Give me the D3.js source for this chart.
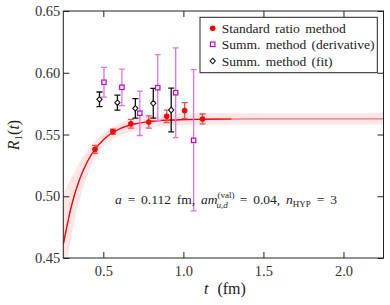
<!DOCTYPE html>
<html><head><meta charset="utf-8">
<script src="https://cdn.jsdelivr.net/npm/d3@7"></script>
<style>body{margin:0;background:#fff}svg{display:block}</style>
</head><body><svg id="c" width="390" height="305"></svg>
<script>
// ---- data ----
const ratioT   = [0.448, 0.560, 0.672, 0.784, 0.896, 1.008, 1.120];
const ratioR   = [0.538, 0.5523, 0.5587, 0.5601, 0.5647, 0.5693, 0.5626];
const ratioErr = [0.0032, 0.0020, 0.0035, 0.0050, 0.0050, 0.0065, 0.0040];
const derivT   = [0.504, 0.616, 0.728, 0.840, 0.952, 1.064];
const derivR   = [0.5923, 0.5882, 0.5672, 0.5879, 0.5838, 0.5453];
const derivErr = [0.0120, 0.0148, 0.0180, 0.0267, 0.0364, 0.0572];
const fitT     = [0.476, 0.588, 0.700, 0.812, 0.924];
const fitR     = [0.5785, 0.5758, 0.5712, 0.5753, 0.5698];
const fitErr   = [0.0059, 0.0061, 0.0079, 0.0120, 0.0177];
// fit curve and band
const curveT   = [0.25, 0.30, 0.35, 0.40, 0.45, 0.50, 0.60, 0.70, 0.80, 0.90, 1.00, 1.20, 1.50, 2.25];
const curveR   = [0.461, 0.4917, 0.5131, 0.5280, 0.5384, 0.5457, 0.5544, 0.5586, 0.5606, 0.5616, 0.5621, 0.5625, 0.5626, 0.5626];
const bandLo   = [0.425, 0.468, 0.496, 0.517, 0.531, 0.540, 0.549, 0.553, 0.556, 0.557, 0.5575, 0.558, 0.558, 0.558];
const bandHi   = [0.502, 0.515, 0.527, 0.537, 0.545, 0.551, 0.559, 0.5635, 0.5655, 0.5665, 0.567, 0.5672, 0.5672, 0.5672];
const fitEndT  = 1.30;
const xTicks = [0.5, 1.0, 1.5, 2.0];
const yTicks = [0.45, 0.50, 0.55, 0.60, 0.65];
const legendLabels = ["Standard ratio method", "Summ. method (derivative)", "Summ. method (fit)"];

// ---- chart ----
const FONT = '"Liberation Serif","DejaVu Serif","Times New Roman",serif';
const svg = d3.select("#c");
const L = 63.3, R = 383.5, T = 11, B = 258;
const x = d3.scaleLinear([0.25, 2.25], [L, R]);
const y = d3.scaleLinear([0.45, 0.65], [B, T]);

svg.append("defs").append("clipPath").attr("id","clip")
  .append("rect").attr("x",L).attr("y",T).attr("width",R-L).attr("height",B-T);
const g = svg.append("g").attr("clip-path","url(#clip)");

const idx = d3.range(curveT.length);
g.append("path")
  .attr("d", d3.area().x(i=>x(curveT[i])).y0(i=>y(bandLo[i])).y1(i=>y(bandHi[i])).curve(d3.curveMonotoneX)(idx))
  .attr("fill","#ff0000").attr("fill-opacity",0.1);
const lineGen = d3.line().x(i=>x(curveT[i])).y(i=>y(curveR[i])).curve(d3.curveMonotoneX);
g.append("path").attr("d", lineGen(idx)).attr("fill","none").attr("stroke","#f07070").attr("stroke-width",1.2);
const g2 = g.append("g");
g2.append("clipPath").attr("id","clip2").append("rect")
  .attr("x",L).attr("y",T).attr("width",x(fitEndT)-L).attr("height",B-T);
g2.append("path").attr("clip-path","url(#clip2)").attr("d", lineGen(idx)).attr("fill","none").attr("stroke","#ff0000").attr("stroke-width",1.2);

function errBars(ts, rs, es, color, cap){
  ts.forEach((t,i)=>{
    const cx = x(t), y1 = y(rs[i]+es[i]), y2 = y(rs[i]-es[i]);
    g.append("line").attr("x1",cx).attr("x2",cx).attr("y1",y1).attr("y2",y2).attr("stroke",color).attr("stroke-width",1.3);
    [y1,y2].forEach(yy=>g.append("line").attr("x1",cx-cap).attr("x2",cx+cap).attr("y1",yy).attr("y2",yy).attr("stroke",color).attr("stroke-width",1.3));
  });
}
const sym = {
  circle: (s,cx,cy)=>s.append("circle").attr("cx",cx).attr("cy",cy).attr("r",2.8).attr("fill","#ff0000"),
  square: (s,cx,cy)=>s.append("rect").attr("x",cx-2.2).attr("y",cy-2.2).attr("width",4.4).attr("height",4.4).attr("fill","#fff").attr("stroke","#c000c0").attr("stroke-width",1.2),
  diamond: (s,cx,cy)=>s.append("path").attr("d",`M${cx},${cy-2.8}L${cx+2.6},${cy}L${cx},${cy+2.8}L${cx-2.6},${cy}Z`).attr("fill","#fff").attr("stroke","#111").attr("stroke-width",1.1)
};

errBars(fitT, fitR, fitErr, "#111", 3);
errBars(derivT, derivR, derivErr, "#dd77dd", 3);
errBars(ratioT, ratioR, ratioErr, "#f05050", 3);
fitT.forEach((t,i)=>sym.diamond(g, x(t), y(fitR[i])));
derivT.forEach((t,i)=>sym.square(g, x(t), y(derivR[i])));
ratioT.forEach((t,i)=>sym.circle(g, x(t), y(ratioR[i])));

svg.append("rect").attr("x",L).attr("y",T).attr("width",R-L).attr("height",B-T).attr("fill","none").attr("stroke","#222").attr("stroke-width",1);

const xb = svg.append("g").attr("transform",`translate(0,${B})`).call(d3.axisBottom(x).tickValues(xTicks).tickFormat(d3.format(".1f")).tickSize(-6).tickPadding(8));
const xt = svg.append("g").attr("transform",`translate(0,${T})`).call(d3.axisTop(x).tickValues(xTicks).tickSize(-6).tickFormat(""));
const yl = svg.append("g").attr("transform",`translate(${L},0)`).call(d3.axisLeft(y).tickValues(yTicks).tickFormat(d3.format(".2f")).tickSize(-6).tickPadding(3));
const yr = svg.append("g").attr("transform",`translate(${R},0)`).call(d3.axisRight(y).tickValues(yTicks).tickSize(-6).tickFormat(""));
[xb,xt,yl,yr].forEach(a=>{a.attr("font-family",FONT); a.select(".domain").remove(); a.selectAll("line").attr("stroke","#222");});
svg.selectAll(".tick text").attr("font-size",14.5).attr("font-family",FONT).attr("fill","#333");

const lg = svg.append("g");
lg.append("rect").attr("x",200).attr("y",17.3).attr("width",177.3).attr("height",55.4).attr("fill","#fff").attr("stroke","#222").attr("stroke-width",1);
const ly = [28.3, 44.3, 61];
sym.circle(lg, 212.7, ly[0]);
sym.square(lg, 212.7, ly[1]);
sym.diamond(lg, 212.7, ly[2]);
legendLabels.forEach((s,i)=>lg.append("text").attr("x",221.7).attr("y",ly[i]+4.5).attr("font-family",FONT).attr("font-size",13.5).attr("word-spacing","2px").attr("fill","#222").text(s));

const ann = svg.append("text").attr("x",115).attr("y",204).attr("font-family",FONT).attr("font-size",13.5).attr("word-spacing","2.5px").attr("fill","#222");
ann.append("tspan").attr("font-style","italic").text("a");
ann.append("tspan").text(" = 0.112 fm,  ");
ann.append("tspan").attr("font-style","italic").text("am");
ann.append("tspan").attr("font-size",9).attr("dy",-6.5).text("(val)");
ann.append("tspan").attr("font-size",9).attr("font-style","italic").attr("dx",-18).attr("dy",10.5).text("u,d");
ann.append("tspan").attr("dy",-4).attr("dx",6).text(" = 0.04,  ");
ann.append("tspan").attr("font-style","italic").text("n");
ann.append("tspan").attr("font-size",9).attr("dy",3).text("HYP");
ann.append("tspan").attr("dy",-3).text(" = 3");

const xlab = svg.append("text").attr("x",204).attr("y",294).attr("font-family",FONT).attr("font-size",16).attr("fill","#222");
xlab.append("tspan").attr("font-style","italic").text("t");
xlab.append("tspan").attr("dx",5).text(" (fm)");
const ylab = svg.append("text").attr("transform","translate(19,135) rotate(-90)").attr("text-anchor","middle").attr("font-family",FONT).attr("font-size",16).attr("fill","#222");
ylab.append("tspan").attr("font-style","italic").text("R");
ylab.append("tspan").attr("font-size",11).attr("dy",3).text("1");
ylab.append("tspan").attr("dy",-3).text("(");
ylab.append("tspan").attr("font-style","italic").text("t");
ylab.append("tspan").text(")");
</script></body></html>
